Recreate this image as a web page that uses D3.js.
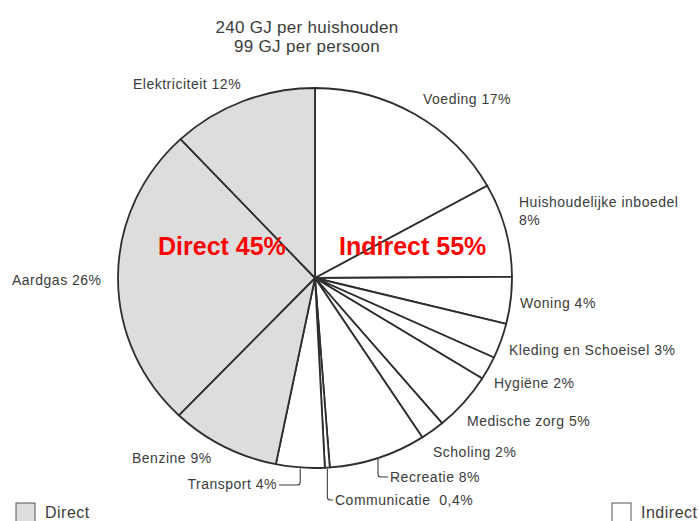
<!DOCTYPE html>
<html>
<head>
<meta charset="utf-8">
<script src="https://cdn.jsdelivr.net/npm/d3@7"></script>
<style>
  body { margin: 0; background: #fff; }
  svg { display: block; }
</style>
</head>
<body>
<svg id="chart" width="699" height="521"></svg>
<script>
// Energiegebruik per huishouden
const categories = [
  "Voeding", "Huishoudelijke inboedel", "Woning", "Kleding en Schoeisel",
  "Hygiëne", "Medische zorg", "Scholing", "Recreatie", "Communicatie",
  "Transport", "Benzine", "Aardgas", "Elektriciteit",
];
const values = [17, 8, 4, 3, 2, 5, 2, 8, 0.4, 4, 9, 26, 12];
const kinds = [
  "indirect", "indirect", "indirect", "indirect", "indirect", "indirect",
  "indirect", "indirect", "indirect", "indirect", "direct", "direct", "direct",
];
const labelTexts = [
  ["Voeding 17%"], ["Huishoudelijke inboedel", "8%"], ["Woning 4%"],
  ["Kleding en Schoeisel 3%"], ["Hygiëne 2%"], ["Medische zorg 5%"],
  ["Scholing 2%"], ["Recreatie 8%"], ["Communicatie  0,4%"],
  ["Transport 4%"], ["Benzine 9%"], ["Aardgas 26%"], ["Elektriciteit 12%"],
];
const titleLines = ["240 GJ per huishouden", "99 GJ per persoon"];
const groupTotals = [
  { name: "Direct", value: 45 },
  { name: "Indirect", value: 55 },
];

// layout
const cx = 315, cy = 278, r = 190, stretch = 197 / 190;
const fillColor = { direct: "#dddddd", indirect: "#ffffff" };
const ink = "#2e2e2e";
const textInk = "#3c3c3c";

// label anchors: [x, y, anchor, leader]
const labelPos = [
  [423, 104, "start"], [519, 207, "start"], [520, 308, "start"],
  [509, 355, "start"], [494, 388, "start"], [467, 426, "start"],
  [433, 457, "start"], [390, 482, "start", 477], [335, 505, "start", 500],
  [277, 489, "end", 485], [132, 463, "start"], [12, 285, "start"],
  [133, 89, "start"],
];

const svg = d3.select("#chart");

const data = categories.map((c, i) => ({ name: c, value: values[i], kind: kinds[i] }));

const pie = d3.pie().sort(null).value((d) => d.value);
const arcs = pie(data);
const arc = d3.arc().innerRadius(0).outerRadius(r);

const g = svg
  .append("g")
  .attr("transform", `translate(${cx},${cy}) scale(${stretch},1)`);

g.selectAll("path")
  .data(arcs)
  .enter()
  .append("path")
  .attr("d", arc)
  .attr("fill", (d) => fillColor[d.data.kind])
  .attr("stroke", ink)
  .attr("stroke-width", 1.8)
  .attr("stroke-linejoin", "round")
  .attr("vector-effect", "non-scaling-stroke");

// point on the outer rim (page coords)
function rim(a) {
  return [cx + Math.sin(a) * r * stretch, cy - Math.cos(a) * r];
}

// title
svg
  .append("g")
  .selectAll("text")
  .data(titleLines)
  .enter()
  .append("text")
  .attr("x", 307)
  .attr("y", (d, i) => 33 + i * 19)
  .attr("text-anchor", "middle")
  .attr("fill", textInk)
  .style("font-family", "Liberation Sans, Arial, sans-serif")
  .style("font-size", "17px")
  .style("letter-spacing", "0.3px")
  .text((d) => d);

// slice labels
const labels = svg.append("g");
arcs.forEach((d, i) => {
  const [x, y, anchor, leadY] = labelPos[i];
  const t = labels
    .append("text")
    .attr("x", x)
    .attr("y", y)
    .attr("text-anchor", anchor)
    .attr("fill", textInk)
    .style("font-family", "Liberation Sans, Arial, sans-serif")
    .style("font-size", "14px")
    .style("letter-spacing", "0.5px")
    .style("white-space", "pre");
  labelTexts[i].forEach((line, j) => {
    t.append("tspan").attr("x", x).attr("dy", j === 0 ? 0 : 18).text(line);
  });

  if (leadY !== undefined) {
    const [px, py] = rim((d.startAngle + d.endAngle) / 2);
    const ex = anchor === "end" ? x + 2 : x - 2;
    labels
      .append("path")
      .attr("d", `M${px},${py + 1}V${leadY - 3}Q${px},${leadY} ${px + (ex > px ? 3 : -3)},${leadY}H${ex}`)
      .attr("fill", "none")
      .attr("stroke", textInk)
      .attr("stroke-width", 1.1);
  }
});

// red overlay totals
svg
  .append("g")
  .selectAll("text")
  .data(groupTotals)
  .enter()
  .append("text")
  .attr("x", (d, i) => (i === 0 ? 158 : 339))
  .attr("y", 255)
  .attr("fill", "#ff0000")
  .style("font-family", "Liberation Sans, Arial, sans-serif")
  .style("font-weight", "bold")
  .style("font-size", "25px")
  .text((d) => `${d.name} ${d.value}%`);

// legend
const legend = svg
  .append("g")
  .selectAll("g")
  .data(["direct", "indirect"])
  .enter()
  .append("g")
  .attr("transform", (d, i) => `translate(${i === 0 ? 16 : 612},503)`);

legend
  .append("rect")
  .attr("width", 19)
  .attr("height", 20)
  .attr("fill", (d) => fillColor[d])
  .attr("stroke", "#555")
  .attr("stroke-width", 1);

legend
  .append("text")
  .attr("x", 29)
  .attr("y", 15)
  .attr("fill", textInk)
  .style("font-family", "Liberation Sans, Arial, sans-serif")
  .style("font-size", "16px")
  .style("letter-spacing", "0.5px")
  .text((d) => (d === "direct" ? "Direct" : "Indirect"));
</script>
</body>
</html>
